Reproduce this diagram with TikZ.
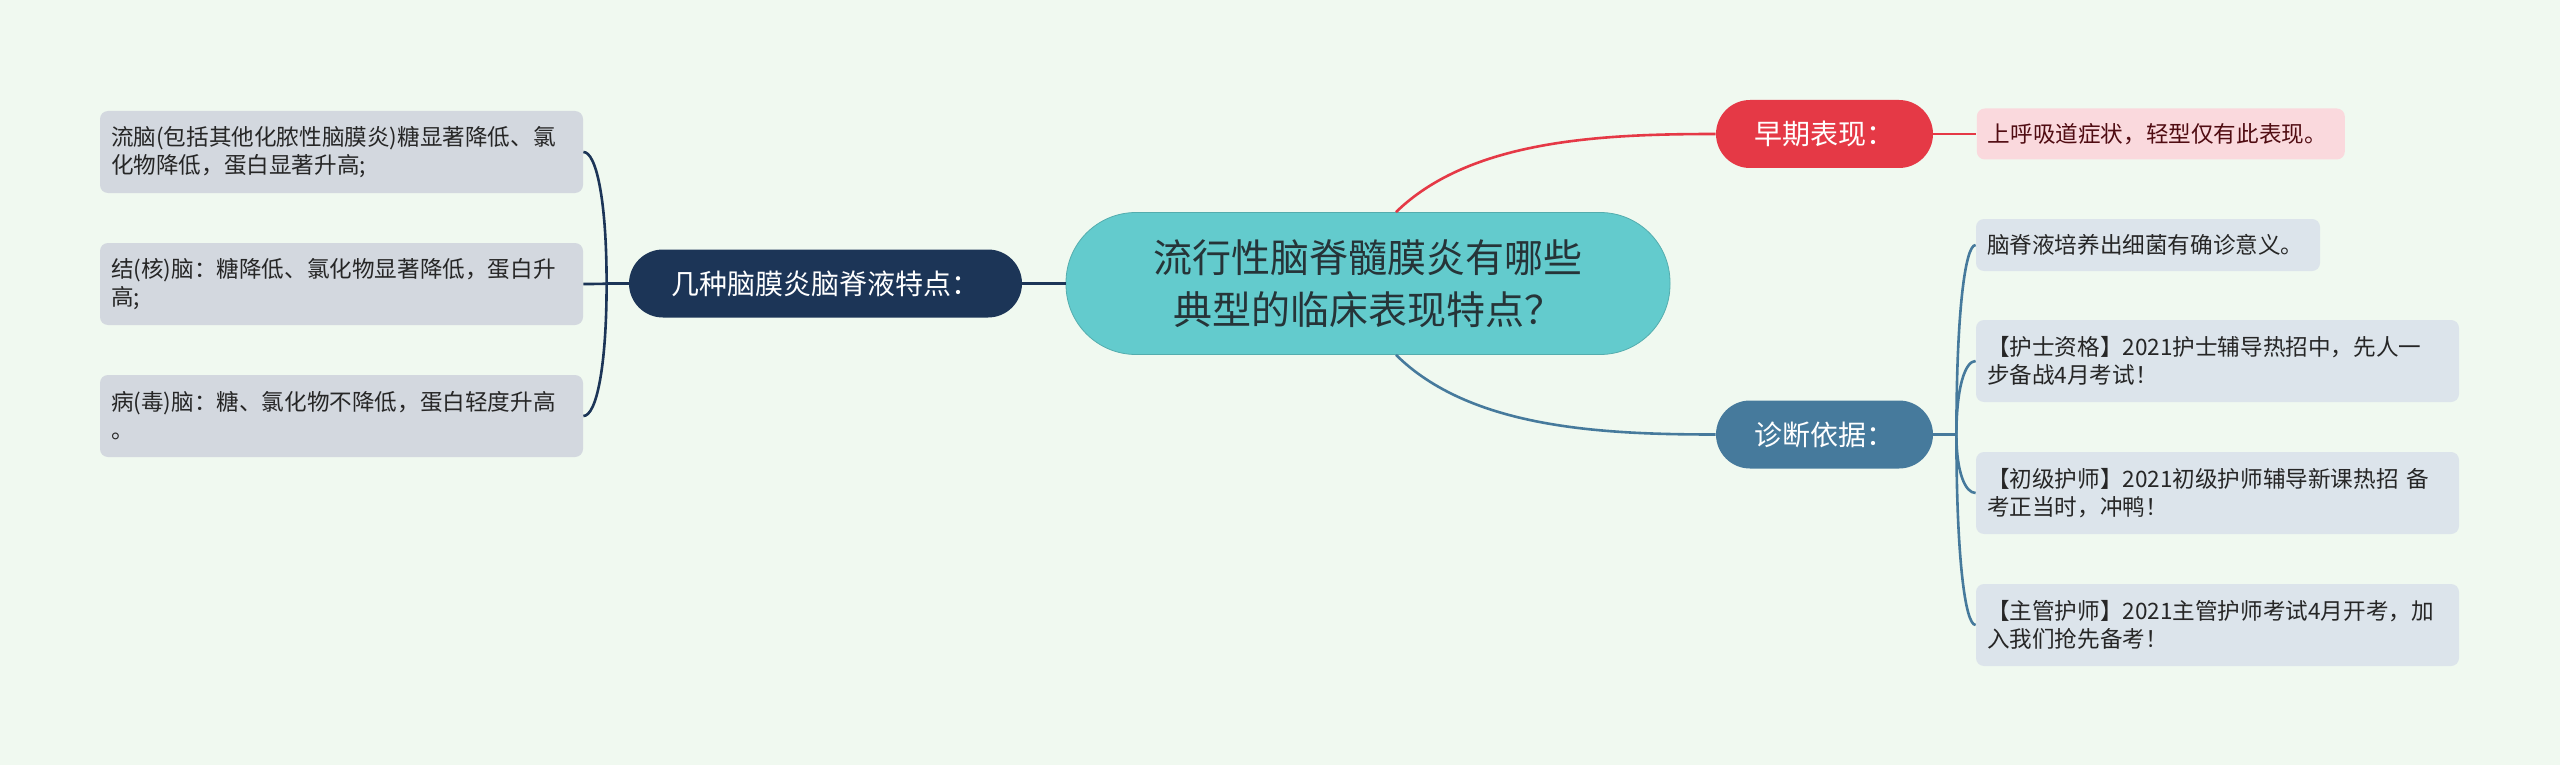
\documentclass[tikz,border=0pt]{standalone}
\usepackage{fontspec}
\newfontfamily\cjk{Noto Sans CJK SC}
\usetikzlibrary{calc, positioning}

\definecolor{bgmint}{RGB}{240,249,240}
\definecolor{rootteal}{RGB}{99,203,205}
\definecolor{roottext}{RGB}{38,52,56}
\definecolor{navy}{RGB}{28,53,87}
\definecolor{leafgray}{RGB}{211,216,223}
\definecolor{earlyred}{RGB}{229,57,70}
\definecolor{pinkleaf}{RGB}{250,217,221}
\definecolor{pinktext}{RGB}{80,12,18}
\definecolor{diagblue}{RGB}{70,122,156}
\definecolor{diagleaf}{RGB}{220,228,235}

\begin{document}
\begin{tikzpicture}[
    x=0.5pt, y=-0.5pt,
    font=\cjk
]

    % Styles
    \tikzset{
        rootnode/.style={
            fill=rootteal, draw=rootteal!85!black, line width=0.4pt,
            rounded corners=35pt, minimum width=302pt, minimum height=71pt,
            align=center, text=roottext,
            font=\cjk\fontsize{19.5}{26}\selectfont
        },
        topicnode/.style={
            rounded corners=17pt, minimum width=108.5pt, minimum height=34pt,
            text=white, font=\cjk\fontsize{14}{17}\selectfont
        },
        leafbox/.style={
            rounded corners=4pt, minimum height=41pt, inner xsep=5.5pt,
            text width=230.5pt, align=left, text=black!85,
            font=\cjk\fontsize{11.3}{14}\selectfont
        },
        link/.style={line width=1.3pt}
    }

    \fill[bgmint] (0,0) rectangle (2560,765);
    \useasboundingbox (0,0) rectangle (2560,765);

    % Central topic
    \node[rootnode] (root) at (1368,283.5)
        {流行性脑脊髓膜炎有哪些\\典型的临床表现特点？};

    % Left branch
    \node[topicnode, fill=navy, minimum width=196.5pt] (csf) at (825.5,283.5)
        {几种脑膜炎脑脊液特点：};
    \node[leafbox, fill=leafgray] (csf1) at (341.5,152)
        {流脑(包括其他化脓性脑膜炎)糖显著降低、氯\\化物降低，蛋白显著升高;};
    \node[leafbox, fill=leafgray] (csf2) at (341.5,284)
        {结(核)脑：糖降低、氯化物显著降低，蛋白升\\高;};
    \node[leafbox, fill=leafgray] (csf3) at (341.5,416)
        {病(毒)脑：糖、氯化物不降低，蛋白轻度升高\\。};

    % Right branch: early signs
    \node[topicnode, fill=earlyred] (early) at (1824.5,134) {早期表现：};
    \node[leafbox, fill=pinkleaf, text=pinktext, text width=173pt,
          minimum height=25.5pt, right=21.5pt of early] (early1)
        {上呼吸道症状，轻型仅有此表现。};

    % Right branch: diagnosis
    \node[topicnode, fill=diagblue] (diag) at (1824.5,434.5) {诊断依据：};
    \node[leafbox, fill=diagleaf, text width=161pt, minimum height=26pt]
        (diag1) at (2148,245) {脑脊液培养出细菌有确诊意义。};
    \node[leafbox, fill=diagleaf] (diag2) at (2217.5,361)
        {【护士资格】2021护士辅导热招中，先人一\\步备战4月考试！};
    \node[leafbox, fill=diagleaf] (diag3) at (2217.5,493)
        {【初级护师】2021初级护师辅导新课热招 备\\考正当时，冲鸭！};
    \node[leafbox, fill=diagleaf] (diag4) at (2217.5,625)
        {【主管护师】2021主管护师考试4月开考，加\\入我们抢先备考！};

    % Connectors
    \draw[link, navy] (root.west) -- (csf.east);
    \coordinate (csfj) at ([xshift=-11pt]csf.west);
    \draw[link, navy] (csf.west) -- (csfj);
    \foreach \leaf in {csf1, csf2, csf3}
        \draw[link, navy] (csfj)
            .. controls ($(csfj)!0.64!(csfj |- \leaf.east)$)
                    and ($(\leaf.east)!0.55!(csfj |- \leaf.east)$) .. (\leaf.east);

    \draw[link, earlyred] ([xshift=14pt]root.north)
        .. controls (1470,140) and (1600,134) .. (early.west);
    \draw[link, earlyred] (early.east) -- (early1.west);

    \draw[link, diagblue] ([xshift=14pt]root.south)
        .. controls (1470,428) and (1600,434.5) .. (diag.west);
    \coordinate (diagj) at ([xshift=11.5pt]diag.east);
    \draw[link, diagblue] (diag.east) -- (diagj);
    \foreach \leaf in {diag1, diag2, diag3, diag4}
        \draw[link, diagblue] (diagj)
            .. controls ($(diagj)!0.64!(diagj |- \leaf.west)$)
                    and ($(\leaf.west)!0.55!(diagj |- \leaf.west)$) .. (\leaf.west);

\end{tikzpicture}
\end{document}
